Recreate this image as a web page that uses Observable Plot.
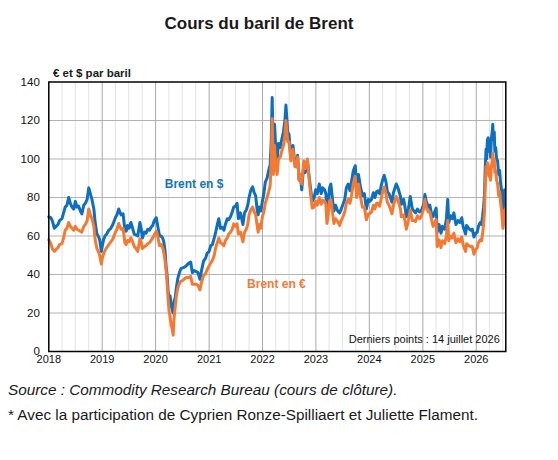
<!DOCTYPE html>
<html lang="fr">
<head>
<meta charset="utf-8">
<script src="https://cdn.jsdelivr.net/npm/d3@7"></script>
<script src="https://cdn.jsdelivr.net/npm/@observablehq/plot@0.6"></script>
<style>
  body { margin: 0; background: #fff; font-family: "Liberation Sans", Arial, sans-serif; color: #1a1a1a; }
  #wrap { position: relative; width: 558px; height: 460px; overflow: hidden; }
  #title { position: absolute; left: 0; top: 14px; width: 518px; text-align: center; font-weight: bold; font-size: 17px; }
  #chart { position: absolute; left: 0; top: 60px; z-index: 1; }
  #unit { position: absolute; left: 53px; top: 67px; font-weight: bold; font-size: 11.5px; z-index: 2; }
  #source { position: absolute; left: 8px; top: 381px; font-style: italic; font-size: 15.3px; white-space: nowrap; }
  #note { position: absolute; left: 8px; top: 405.5px; font-size: 15.3px; white-space: nowrap; }
</style>
</head>
<body>
<div id="wrap">
  <div id="title">Cours du baril de Brent</div>
  <div id="chart"></div>
  <div id="unit">€ et $ par baril</div>
  <div id="source">Source : Commodity Research Bureau (cours de clôture).</div>
  <div id="note">* Avec la participation de Cyprien Ronze-Spilliaert et Juliette Flament.</div>
</div>
<script>
// Brent closing price: [date, dollars per barrel, euros per barrel]
const brent2018 = [
  ["2018-01-01",70,58],["2018-01-15",69.5,56],["2018-01-25",68,53.5],["2018-02-08",64,52],["2018-02-20",65,53],
  ["2018-03-05",66,54],["2018-03-15",68,55.5],["2018-04-01",69,56],["2018-04-12",72,59],["2018-04-23",75,63],
  ["2018-05-05",76,64],["2018-05-17",80,67],["2018-05-28",77,65],["2018-06-09",75,64],["2018-06-20",74,63],
  ["2018-07-02",78,65],["2018-07-12",75,63.5],["2018-07-24",75.5,63],["2018-08-05",73,62.5],["2018-08-15",71.5,62],
  ["2018-08-28",76,65],["2018-09-08",77,66],["2018-09-20",79,68],["2018-10-01",85,74],["2018-10-12",82,71],
  ["2018-10-23",79,69],["2018-11-05",74,65],["2018-11-14",67,58],["2018-11-26",61,53.5],["2018-12-05",60,52],
  ["2018-12-15",58,50],["2018-12-26",52,45.5]
];
const brent2019 = [
  ["2019-01-02",55,48.5],["2019-01-10",58,50.5],["2019-01-20",60,52.5],["2019-02-01",61,54],["2019-02-15",63,55.5],
  ["2019-03-01",64,57],["2019-03-15",66,58.5],["2019-04-01",69.5,62],["2019-04-12",71,63.5],["2019-04-24",74,66.5],
  ["2019-05-10",71,63.5],["2019-05-24",71.5,64],["2019-06-05",63,56.5],["2019-06-14",62.5,55.5],["2019-06-23",65.5,57.7],
  ["2019-07-04",64,57],["2019-07-16",67,59],["2019-07-28",64,57],["2019-08-08",61,54.5],["2019-08-20",60.5,53.5],
  ["2019-09-01",60,52],["2019-09-16",67,58.5],["2019-09-24",64,57],["2019-10-03",59,53.5],["2019-10-16",62,54.5],
  ["2019-10-28",61.5,55],["2019-11-08",63.5,56],["2019-11-20",63,56.5],["2019-12-01",64.5,57.7],["2019-12-12",65.5,59],
  ["2019-12-23",68,60.5]
];
const brent2020 = [
  ["2020-01-06",69.5,62.5],["2020-01-16",65,59.5],["2020-01-28",60,55],["2020-02-08",60,55.5],["2020-02-18",59,54],
  ["2020-02-26",57,51.5],["2020-03-06",52,47],["2020-03-13",44,42],["2020-03-19",40,36],["2020-03-26",32,28],
  ["2020-04-02",26,21],["2020-04-09",29,18],["2020-04-16",24,14],["2020-04-23",22,12],["2020-04-30",20,8.5],
  ["2020-05-06",26,17],["2020-05-14",28,23],["2020-05-22",33,29],["2020-06-01",38,33],["2020-06-12",41,35.5],
  ["2020-06-22",43,36.5],["2020-07-06",43.5,37],["2020-07-20",44,38],["2020-08-03",45,38.5],["2020-08-17",46,38.5],
  ["2020-08-28",46.5,39],["2020-09-08",41,35],["2020-09-21",42,35],["2020-10-05",41.5,35],["2020-10-17",41,34.3],
  ["2020-10-30",37.5,32],["2020-11-10",42,36],["2020-11-24",47,39.5],["2020-12-08",48.5,40.5],["2020-12-18",51,42.5]
];
const brent2021 = [
  ["2021-01-01",52,44.5],["2021-01-12",55,46],["2021-01-23",55.5,47.3],["2021-02-05",59,50],["2021-02-15",62,54],
  ["2021-02-26",66,56.5],["2021-03-08",69,59],["2021-03-19",64,56.5],["2021-03-30",64.5,56],["2021-04-12",63,55],
  ["2021-04-22",66,57.6],["2021-05-05",69,59],["2021-05-15",68.5,61],["2021-05-27",70,62],["2021-06-08",72.5,63.5],
  ["2021-06-18",75,66.3],["2021-06-30",75.5,65],["2021-07-11",77,66.3],["2021-07-20",69,61],["2021-08-03",72,62],
  ["2021-08-20",66,57],["2021-08-31",72,62],["2021-09-12",73.5,63.5],["2021-09-22",76,66],["2021-10-01",80,71],
  ["2021-10-12",83.5,73.5],["2021-10-25",85.5,75],["2021-11-05",82.5,72.5],["2021-11-15",81,71],["2021-11-26",73,65],
  ["2021-12-02",71,62],["2021-12-10",75,66],["2021-12-20",73,64],["2021-12-31",78,70]
];
const brent2022 = [
  ["2022-01-10",82,72.5],["2022-01-20",88,77],["2022-02-01",90,80],["2022-02-12",94,83],["2022-02-22",97,86],
  ["2022-03-01",108,97],["2022-03-08",132,121],["2022-03-16",100,92],["2022-03-24",118,107],["2022-04-01",106,96],
  ["2022-04-11",100,92],["2022-04-20",108,100],["2022-05-02",106,101],["2022-05-12",110,104],["2022-05-24",114,107],
  ["2022-06-03",120,112],["2022-06-10",128,120],["2022-06-22",114,109],["2022-07-01",113,109],["2022-07-14",100,99],
  ["2022-07-28",107,105],["2022-08-10",98,96],["2022-08-22",96,96],["2022-08-29",102,101],["2022-09-08",89,89],
  ["2022-09-16",92,92],["2022-09-26",84,87],["2022-10-10",97,99],["2022-10-20",93,95],["2022-11-04",99,100],
  ["2022-11-17",90,88],["2022-11-28",83,80],["2022-12-07",78,74.5],["2022-12-20",80,75],["2022-12-30",84,78]
];
const brent2023 = [
  ["2023-01-10",82,76],["2023-01-24",87,80],["2023-02-06",82,76.5],["2023-02-16",85,78.5],["2023-03-01",84,78],
  ["2023-03-10",82,76.5],["2023-03-17",73,66.5],["2023-03-24",75,69.5],["2023-04-04",85,78],["2023-04-13",87,79],
  ["2023-04-26",78,71],["2023-05-04",73,66.5],["2023-05-15",76,69],["2023-05-30",73,67.5],["2023-06-12",72,65.5],
  ["2023-06-23",74,68],["2023-07-05",76.5,70],["2023-07-17",79,72.5],["2023-07-28",85,77],["2023-08-10",87,79],
  ["2023-08-22",83.5,77],["2023-09-01",88,81],["2023-09-14",94,87.5],["2023-09-27",96.5,91],["2023-10-06",84.5,80],
  ["2023-10-19",92,87],["2023-10-31",86,81],["2023-11-15",81,75],["2023-11-28",82,75],["2023-12-12",74,68.5],
  ["2023-12-26",79,71.5]
];
const brent2024 = [
  ["2024-01-03",78,71.5],["2024-01-16",79,72.5],["2024-01-29",82.5,76],["2024-02-08",80,74],["2024-02-20",83,77],
  ["2024-03-01",83.5,77],["2024-03-12",82,75.5],["2024-03-22",86,79.5],["2024-04-04",90,83.5],["2024-04-12",91.5,85.5],
  ["2024-04-24",88,82],["2024-05-03",83,77.5],["2024-05-15",82,76],["2024-06-04",77.5,71.5],["2024-06-14",82.5,76],
  ["2024-07-03",87,80.5],["2024-07-15",85,78.5],["2024-08-01",80.5,74],["2024-08-07",76.5,70],["2024-08-23",79,71],
  ["2024-09-03",74,67],["2024-09-10",70,63.5],["2024-09-24",74,68],["2024-10-07",80.5,73.5],["2024-10-21",74,68],
  ["2024-11-01",73,68],["2024-11-12",72,67.5],["2024-11-25",74,70.5],["2024-12-09",72.5,69],["2024-12-20",73,70],
  ["2024-12-31",75,72.5]
];
const brent2025 = [
  ["2025-01-08",77,74.5],["2025-01-15",81.5,79],["2025-01-24",78,75],["2025-02-07",75,72.5],["2025-02-18",76,72.5],
  ["2025-03-04",70.5,67.5],["2025-03-12",70,65],["2025-03-25",73,67.5],["2025-04-02",74.5,68.5],["2025-04-09",62,54.5],
  ["2025-04-22",66,58],["2025-05-05",61.5,54],["2025-05-15",65,57.5],["2025-05-30",63.5,56],["2025-06-11",69,60],
  ["2025-06-20",79,68],["2025-06-27",67,57.5],["2025-07-10",70.5,60],["2025-07-22",69,59],["2025-08-01",72,61.5],
  ["2025-08-15",66,56.5],["2025-08-29",68,58.5],["2025-09-10",67,57],["2025-09-24",69.5,59.5],["2025-10-03",65,55.5],
  ["2025-10-20",61,52],["2025-10-27",65.5,56],["2025-11-10",64,55],["2025-11-24",63,54.5],["2025-12-05",63.5,54.5],
  ["2025-12-16",59.5,50.5],["2025-12-29",61.5,53]
];
const brent2026 = [
  ["2026-01-08",62,54],["2026-01-16",65,56.5],["2026-01-28",67,58],["2026-02-06",66,57.5],["2026-02-13",70,61],
  ["2026-02-20",75,66],["2026-02-26",81,72],["2026-03-03",94,85],["2026-03-09",105,96],["2026-03-13",100,92],
  ["2026-03-18",110,98],["2026-03-24",111,96],["2026-03-30",104,91],["2026-04-03",107,93],["2026-04-09",101,89],
  ["2026-04-14",110,96],["2026-04-20",114,99],["2026-04-24",118,103],["2026-04-28",110,96],["2026-05-04",114,100],
  ["2026-05-08",104,93],["2026-05-14",106,94],["2026-05-20",100,89],["2026-05-27",99,87],["2026-06-03",92,81],
  ["2026-06-10",94,83],["2026-06-17",87,77],["2026-06-24",83,73],["2026-06-29",77,67],["2026-07-03",73,64],
  ["2026-07-08",77,67.5],["2026-07-11",80,70],["2026-07-14",84,73.5]
];

// Axis ticks and annotations
const yearTicks = [2018, 2019, 2020, 2021, 2022, 2023, 2024, 2025, 2026];
const valueTicks = [0, 20, 40, 60, 80, 100, 120, 140];
const seriesLabels = [
  {name: "Brent en $", series: "usd", date: "2020-09-20", value: 86.7},
  {name: "Brent en €", series: "eur", date: "2022-04-06", value: 35.2}
];
const lastPointsNote = "Derniers points : 14 juillet 2026";
const axisStart = "2018-01-01", axisEnd = "2026-07-22";

const blue = "#0d6fbd";
const orange = "#f47a33";

const parse = d3.utcParse("%Y-%m-%d");
const rows = [brent2018, brent2019, brent2020, brent2021, brent2022, brent2023, brent2024, brent2025, brent2026]
  .flat()
  .map(([d, usd, eur]) => ({date: parse(d), usd, eur}));
const labels = seriesLabels.map(d => ({...d, date: parse(d.date)}));
const x0 = parse(axisStart), x1 = parse(axisEnd);
const years = yearTicks.map(y => new Date(Date.UTC(y, 0, 1)));
const quarters = d3.utcMonth.every(3).range(x0, x1).filter(d => d.getUTCMonth() !== 0);

const chart = Plot.plot({
  width: 558,
  height: 313,
  marginLeft: 48.3,
  marginRight: 52.7,
  marginTop: 21.5,
  marginBottom: 22,
  style: {fontFamily: "'Liberation Sans', Arial, sans-serif", fontSize: "11.5px", color: "#111", background: "transparent"},
  x: {type: "utc", domain: [x0, x1]},
  y: {domain: [0, 140]},
  marks: [
    Plot.ruleX(quarters, {stroke: "#e3e3e3", strokeWidth: 1}),
    Plot.ruleY(valueTicks.slice(1, -1), {stroke: "#b3b3b3", strokeWidth: 1}),
    Plot.ruleX(years.slice(1), {stroke: "#a9a9a9", strokeWidth: 1}),
    Plot.lineY(rows, {x: "date", y: "usd", stroke: blue, strokeWidth: 3, strokeLinejoin: "round"}),
    Plot.lineY(rows, {x: "date", y: "eur", stroke: orange, strokeWidth: 3, strokeLinejoin: "round"}),
    Plot.text(labels.filter(d => d.series === "usd"), {x: "date", y: "value", text: "name", fill: "#1574c0", fontSize: 12, fontWeight: "bold"}),
    Plot.text(labels.filter(d => d.series === "eur"), {x: "date", y: "value", text: "name", fill: "#f07a3e", fontSize: 12, fontWeight: "bold"}),
    Plot.text([lastPointsNote], {text: d => d, frameAnchor: "bottom-right", dx: -6, dy: -9, fontSize: 11, fill: "#111"}),
    Plot.frame({stroke: "#000", strokeWidth: 1.5}),
    Plot.axisY(valueTicks, {tickSize: 0, tickPadding: 9, fontSize: 11.5}),
    Plot.axisX(years, {tickSize: 0, tickPadding: 4, tickFormat: d3.utcFormat("%Y"), fontSize: 11})
  ]
});
document.getElementById("chart").append(chart);
</script>
</body>
</html>
